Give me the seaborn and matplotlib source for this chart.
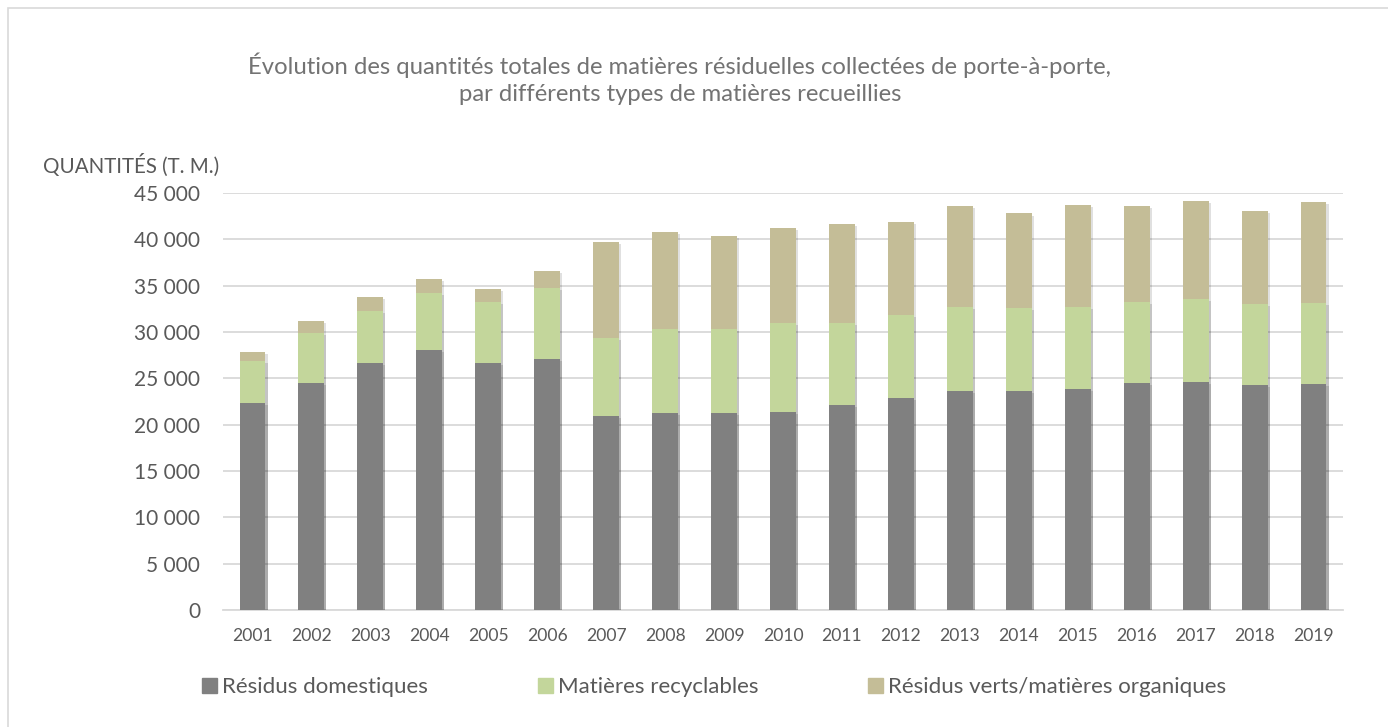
import numpy as np
import pandas as pd
import matplotlib
matplotlib.use("Agg")
import matplotlib.pyplot as plt
import matplotlib.patheffects as pe
from matplotlib.patches import Rectangle
import seaborn as sns

# data (t. m.)
annees = [str(a) for a in range(2001, 2020)]
domestiques = [22340, 24500, 26700, 28030, 26700, 27130, 20970, 21300, 21260, 21400,
               22160, 22880, 23640, 23610, 23890, 24500, 24640, 24290, 24400]
recyclables = [4540, 5370, 5610, 6160, 6520, 7630, 8430, 9070, 9070, 9550,
               8790, 9000, 9100, 8960, 8820, 8750, 8940, 8780, 8740]
organiques = [1000, 1300, 1510, 1540, 1470, 1870, 10330, 10440, 10080, 10260,
              10690, 10010, 10880, 10220, 11020, 10400, 10540, 9980, 10880]

series = ["Résidus domestiques", "Matières recyclables", "Résidus verts/matières organiques"]
couleurs = ["#808080", "#C3D69B", "#C4BD97"]

df = pd.DataFrame({"annee": annees, "dom": domestiques, "rec": recyclables, "org": organiques})
df["cum_rec"] = df["dom"] + df["rec"]
df["cum_org"] = df["cum_rec"] + df["org"]

sns.set_theme(style="white")
plt.rcParams["font.family"] = ["Lato", "DejaVu Sans"]
gris_txt = "#595959"

fig = plt.figure(figsize=(13.88, 7.27), dpi=100)
ax = fig.add_axes([223 / 1388, 1 - 610 / 727, 1120 / 1388, 417 / 727])

ombre = [pe.withSimplePatchShadow(offset=(1.5, -1.5), shadow_rgbFace="#000000", alpha=0.12), pe.Normal()]

# stacked: draw the cumulative layers back to front
for col, c in zip(["cum_org", "cum_rec", "dom"], couleurs[::-1]):
    sns.barplot(data=df, x="annee", y=col, color=c, width=0.44, ax=ax,
                saturation=1, linewidth=0, zorder=3)
for p in ax.patches:
    p.set_path_effects(ombre)

ax.set_ylim(0, 45000)
ax.set_xlim(-0.5, len(annees) - 0.5)
ax.set_yticks(np.arange(0, 45001, 5000))
ax.set_yticklabels([f"{v:,}".replace(",", " ") for v in range(0, 45001, 5000)])
ax.yaxis.grid(True, color="#D9D9D9", linewidth=1.3, zorder=0)
ax.set_axisbelow(True)
for s in ["top", "right", "left"]:
    ax.spines[s].set_visible(False)
ax.spines["bottom"].set_color("#D9D9D9")
ax.spines["bottom"].set_linewidth(1.3)
ax.tick_params(axis="both", length=0, labelcolor=gris_txt)
ax.tick_params(axis="y", labelsize=15, pad=16.5)
ax.tick_params(axis="x", labelsize=12.6, pad=13)
ax.set_xlabel("")
ax.set_ylabel("")

fig.text(43 / 1388, 1 - 165 / 727, "QUANTITÉS (T. M.)", fontsize=14.8, color=gris_txt,
         ha="left", va="center")

fig.text(680 / 1388, 1 - 79 / 727,
         "Évolution des quantités totales de matières résiduelles collectées de porte-à-porte,\n"
         "par différents types de matières recueillies",
         fontsize=17.2, color="#737373", ha="center", va="center",
         multialignment="center", linespacing=1.35)

# one legend entry per position, like the original layout
legende_x = [202, 538, 868]
for h, lab, x in zip(couleurs, series, legende_x):
    fig.legend([Rectangle((0, 0), 1, 1, color=h)], [lab], loc="center left",
               bbox_to_anchor=(x / 1388, 1 - 687 / 727), frameon=False, fontsize=16,
               labelcolor=gris_txt, handlelength=0.68, handleheight=0.68, handletextpad=0.22,
               borderpad=0, borderaxespad=0)

fig.add_artist(Rectangle((8 / 1388, -0.01), 1.2, 1 - 8 / 727 + 0.01, transform=fig.transFigure,
                         fill=False, edgecolor="#D9D9D9", linewidth=1.2))

fig.savefig("out.png", dpi=100)
